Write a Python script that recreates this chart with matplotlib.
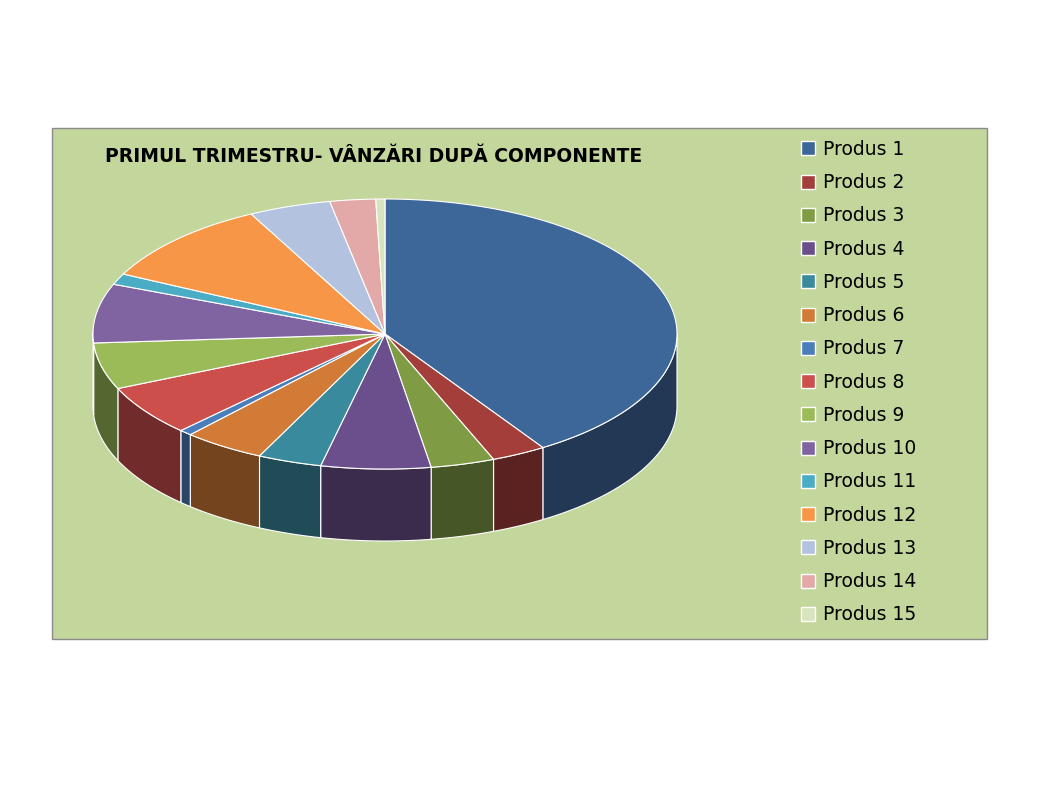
import numpy as np
import matplotlib.pyplot as plt
from matplotlib.patches import Polygon, Rectangle
from matplotlib.lines import Line2D
import matplotlib.colors as mcolors

labels = ["Produs %d" % i for i in range(1, 16)]
values = [40.5, 3, 3.5, 6, 3.5, 4.5, 0.7, 6, 5.5, 7, 1.3, 10, 4.5, 2.5, 0.5]
colors = ["#3d6699", "#a33e3b", "#7f9c45", "#6b4f8c", "#3a8a9e", "#d27b37",
          "#4a7ebb", "#cc4f4c", "#9bbb59", "#8064a2", "#4bacc6", "#f79646",
          "#b3c2de", "#e3a9a8", "#d7e4bd"]

W, H = 1038, 800
fig = plt.figure(figsize=(W / 100, H / 100), dpi=100)
ax = fig.add_axes([0, 0, 1, 1])
ax.set_xlim(0, W)
ax.set_ylim(0, H)
ax.axis("off")

ax.add_patch(Rectangle((52, H - 639), 935, 511, facecolor="#c3d69b",
                       edgecolor="#8c8c8c", lw=1))

cx, cy, rx, ry, depth = 385, H - 334, 292, 135, 72
fr = np.array(values) / sum(values)
ends = np.pi / 2 - 2 * np.pi * np.cumsum(fr)
starts = np.concatenate([[np.pi / 2], ends[:-1]])

def dark(c, f):
    r, g, b = mcolors.to_rgb(c)
    return (r * f, g * f, b * f)

# side walls (front half only)
for a0, a1, c in zip(starts, ends, colors):
    t = np.linspace(a0, a1, 200)
    t = t[np.sin(t) <= 0.02]
    if len(t) < 2:
        continue
    xs = cx + rx * np.cos(t)
    ys = cy + ry * np.sin(t)
    pts = np.column_stack([np.concatenate([xs, xs[::-1]]),
                           np.concatenate([ys, ys[::-1] - depth])])
    ax.add_patch(Polygon(pts, facecolor=dark(c, 0.55), edgecolor="white",
                         lw=0.8, zorder=2))

# top faces
for a0, a1, c in zip(starts, ends, colors):
    t = np.linspace(a0, a1, 200)
    pts = np.column_stack([np.concatenate([[cx], cx + rx * np.cos(t)]),
                           np.concatenate([[cy], cy + ry * np.sin(t)])])
    ax.add_patch(Polygon(pts, facecolor=c, edgecolor="white", lw=0.8, zorder=3))

ax.text(105, H - 157, "PRIMUL TRIMESTRU- VÂNZĂRI DUPĂ COMPONENTE",
        fontsize=13.5, fontweight="bold", va="center", ha="left",
        family=["Liberation Sans Narrow", "DejaVu Sans"])

handles = [Line2D([], [], marker="s", ls="", markersize=10, markerfacecolor=c,
                  markeredgecolor="white") for c in colors]
fig.legend(handles, labels, loc="upper left", bbox_to_anchor=(780 / W, 1 - 123 / H),
           frameon=False, handletextpad=0.2, labelspacing=0.76,
           handlelength=1.2, prop={"family": "DejaVu Sans", "size": 13.5})

fig.savefig("out.png", dpi=100, facecolor="white")
